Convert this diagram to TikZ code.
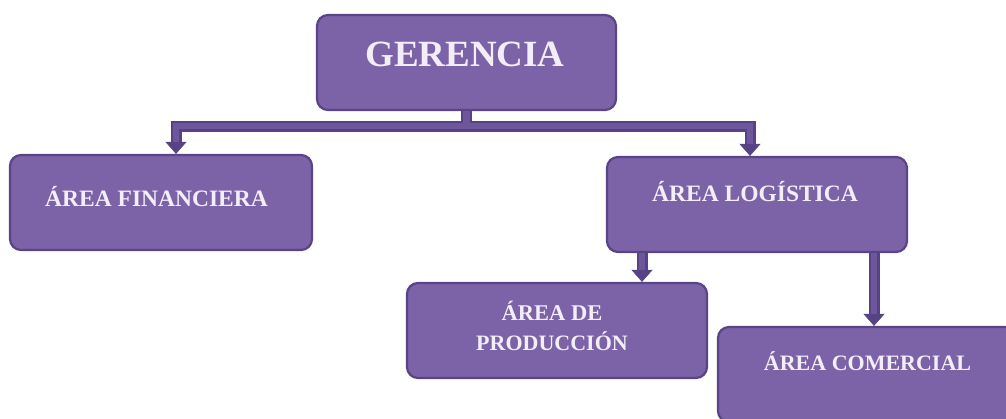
\documentclass[tikz,border=0pt]{standalone}
\usepackage{fontspec}
\setmainfont{Liberation Serif}
\usetikzlibrary{arrows.meta}
\definecolor{boxfill}{RGB}{124,98,167}
\definecolor{boxline}{RGB}{88,68,134}
\definecolor{txt}{RGB}{243,237,248}
\definecolor{connout}{RGB}{86,66,132}
\definecolor{connin}{RGB}{110,86,156}
\begin{document}
\begin{tikzpicture}[x=1pt,y=-1pt,
  box/.style={draw=boxline, line width=2.2pt, fill=boxfill, rounded corners=11pt,
    minimum width=300pt, minimum height=95pt, inner sep=0pt},
  lbl/.style={text=txt, anchor=base, inner sep=0pt, font=\bfseries\fontsize{22.5}{27}\selectfont},
  connouter/.style={draw=connout, line width=11pt, line join=miter},
  conninner/.style={draw=connin, line width=6.5pt, line join=miter},
  tipd/.tip={Triangle[width=21pt,length=12pt,line width=0.5pt]}
]
\useasboundingbox (0,0) rectangle (1006,418);
\clip (0,0) rectangle (1006,418);

% boxes
\node[box, minimum width=299pt] (g) at (466.5,62.5) {};
\node[box, minimum width=302pt] (fin) at (161,202.5) {};
\node[box] (log) at (757,204.5) {};
\node[box] (prod) at (557,330.5) {};
\node[box, minimum width=298pt] (com) at (867,374.5) {};

% labels
\node[lbl, font=\bfseries\fontsize{37}{40}\selectfont] (gl) at (465,66) {GERENCIA};
\node[lbl, font=\bfseries\fontsize{23.5}{27}\selectfont] (finl) at (156.5,206) {ÁREA FINANCIERA};
\node[lbl, font=\bfseries\fontsize{23.5}{27}\selectfont] (logl) at (755,201) {ÁREA LOGÍSTICA};
\node[lbl, font=\bfseries\fontsize{22.5}{27}\selectfont] (prodl1) at (552,320) {ÁREA DE};
\node[lbl, font=\bfseries\fontsize{22}{27}\selectfont] (prodl2) at (552,350) {PRODUCCIÓN};
\node[lbl, font=\bfseries\fontsize{22}{27}\selectfont] (coml) at (867.5,370) {ÁREA COMERCIAL};

% junction coordinates
\coordinate (jl) at (176,126);
\coordinate (jr) at (750,126);
\coordinate (px) at (642,0);
\coordinate (cx) at (874,0);

% connectors: outer strokes
\draw[connouter] (g.south) -- (g.south |- jl);
\draw[connouter, tipd-tipd] (jl |- fin.north) -- (jl) -- (jr) -- (jr |- log.north);
\draw[connouter, -tipd] (log.south -| px) -- (prod.north -| px);
\draw[connouter, -tipd] (log.south -| cx) -- (com.north -| cx);
% connectors: inner strokes
\draw[conninner] (g.south) -- (g.south |- jl);
\draw[conninner, shorten <=12pt, shorten >=12pt] (jl |- fin.north) -- (jl) -- (jr) -- (jr |- log.north);
\draw[conninner, shorten >=12pt] (log.south -| px) -- (prod.north -| px);
\draw[conninner, shorten >=12pt] (log.south -| cx) -- (com.north -| cx);
\end{tikzpicture}
\end{document}
